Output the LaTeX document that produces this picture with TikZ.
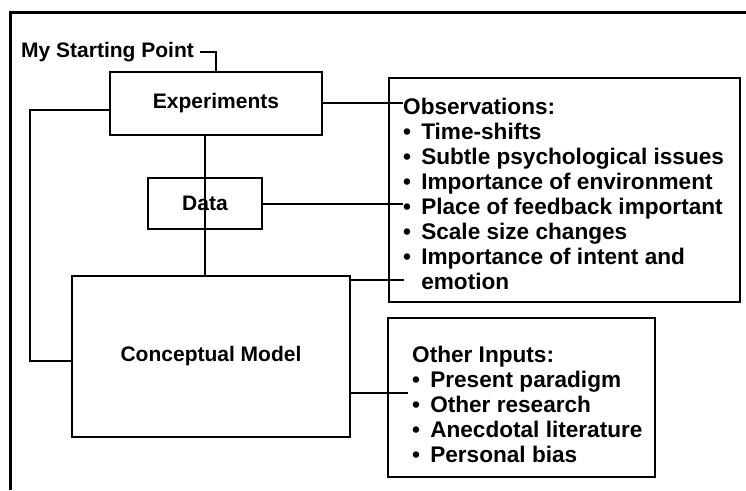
\documentclass[tikz,border=0pt]{standalone}
\usepackage{fontspec}
\setmainfont{Liberation Sans}
\usepackage{tikz}
\usetikzlibrary{positioning}

\newcommand{\bul}{\textbullet\hspace{0.45em}}

\begin{document}
\begin{tikzpicture}[x=1pt, y=-1pt,
label/.style={font=\fontsize{21}{25}\selectfont\bfseries, inner sep=0pt},
box/.style={draw, line width=2.5pt, inner sep=0pt},
list/.style={font=\fontsize{22.6}{25}\selectfont\bfseries, align=left, inner sep=0pt, anchor=west},
link/.style={line width=2pt}]
\useasboundingbox (0,0) rectangle (746,490);
\draw[line width=3pt] (10,490) |- (746,12);
\node[label, anchor=west] (start) at (21,52) {My Starting Point};
\node[box, minimum width=212pt, minimum height=63pt] (exper) at (216,103.5) {\fontsize{21}{25}\selectfont\bfseries Experiments};
\node[box, minimum width=114pt, minimum height=51pt] (data) at (205,203.5) {\fontsize{21}{25}\selectfont\bfseries Data};
\node[box, minimum width=278pt, minimum height=161pt] (model) at (211,356.5) {\fontsize{21}{25}\selectfont\bfseries Conceptual Model};
\node[box, minimum width=351pt, minimum height=224pt] (obs) at (564.5,190) {};
\node[list] (obstext) at (403,194) {Observations:\\ \bul Time-shifts\\ \bul Subtle psychological issues\\ \bul Importance of environment\\ \bul Place of feedback important\\ \bul Scale size changes\\ \bul Importance of intent and\\ \phantom{\bul}emotion};
\node[box, minimum width=267pt, minimum height=159pt] (other) at (521.5,397.5) {};
\node[list] (othertext) at (412,404.5) {Other Inputs:\\ \bul Present paradigm\\ \bul Other research\\ \bul Anecdotal literature\\ \bul Personal bias};
\draw[link] ([xshift=6pt]start.east) -| (exper.north);
\draw[link] ([yshift=-6pt]exper.west) -- ++(-79,0) |- ([yshift=-4pt]model.west);
\draw[link] (exper.south -| data) -- (model.north -| data);
\draw[link] ([yshift=1pt]exper.east) -- ([yshift=1pt]exper.east -| obstext.west);
\draw[link] (data.east) -- (data.east -| obstext.west);
\draw[link] ([yshift=-5pt]model.north east) -- ++(53,0);
\draw[link] ([yshift=-36pt]model.east) -- ++(57,0);
\end{tikzpicture}
\end{document}
